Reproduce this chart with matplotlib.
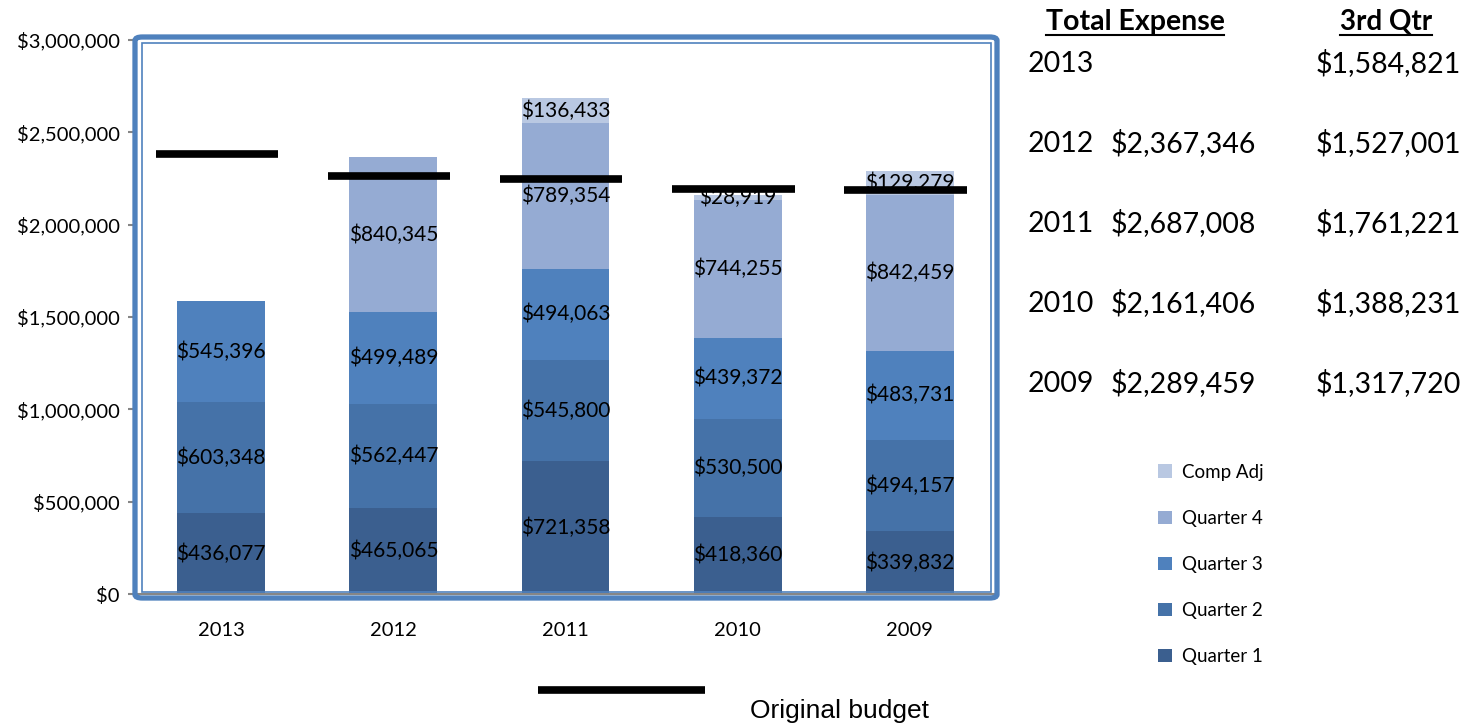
import matplotlib
matplotlib.use("Agg")
import matplotlib.pyplot as plt
import numpy as np
from matplotlib.patches import FancyBboxPatch
from matplotlib.lines import Line2D

plt.rcParams['font.family'] = ['Lato', 'DejaVu Sans']

years = ['2013', '2012', '2011', '2010', '2009']
q1 = [436077, 465065, 721358, 418360, 339832]
q2 = [603348, 562447, 545800, 530500, 494157]
q3 = [545396, 499489, 494063, 439372, 483731]
q4 = [0, 840345, 789354, 744255, 842459]
comp_adj = [0, 0, 136433, 28919, 129279]
budget = [2380000, 2262000, 2245000, 2191000, 2190000]

series_names = ['Quarter 1', 'Quarter 2', 'Quarter 3', 'Quarter 4', 'Comp Adj']
series = [q1, q2, q3, q4, comp_adj]
colors = ['#3B5F8F', '#4572A8', '#4F81BD', '#95ABD3', '#B9C8E2']

table_years = ['2013', '2012', '2011', '2010', '2009']
table_total = ['', '$2,367,346', '$2,687,008', '$2,161,406', '$2,289,459']
table_q3 = ['$1,584,821', '$1,527,001', '$1,761,221', '$1,388,231', '$1,317,720']

W, H = 1468, 725
fig = plt.figure(figsize=(W / 100, H / 100), dpi=100)

def fx(px):
    return px / W

def fy(py):
    return 1 - py / H

ax = fig.add_axes([fx(135), fy(594), fx(996) - fx(135), fy(40) - fy(594)])
x = np.arange(len(years))
bottom = np.zeros(len(years))
for name, vals, c in zip(series_names, series, colors):
    vals = np.array(vals, dtype=float)
    ax.bar(x, vals, 0.51, bottom=bottom, color=c, label=name, zorder=2)
    for i, v in enumerate(vals):
        if v > 0:
            ax.text(x[i], bottom[i] + v / 2, '${:,.0f}'.format(v), ha='center', va='center',
                    fontsize=15, color='black', zorder=3)
    bottom += vals

for i, b in enumerate(budget):
    ax.plot([x[i] - 0.38, x[i] + 0.33], [b, b], color='black', lw=5.5, solid_capstyle='butt', zorder=4)

ax.set_xlim(-0.5, len(years) - 0.5)
ax.set_ylim(0, 3000000)
ax.set_yticks(np.arange(0, 3000001, 500000))
ax.set_yticklabels(['${:,.0f}'.format(v) for v in np.arange(0, 3000001, 500000)], fontsize=14.5)
ax.set_xticks(x)
ax.set_xticklabels(years, fontsize=14.5)
ax.tick_params(axis='x', length=0, pad=20)
ax.tick_params(axis='y', length=5, color='#868686', width=1.5, pad=6)
for s in ['top', 'right']:
    ax.spines[s].set_visible(False)
ax.spines['left'].set_color('#868686')
ax.spines['bottom'].set_color('#868686')
ax.spines['left'].set_linewidth(1.5)
ax.spines['bottom'].set_linewidth(1.5)
ax.patch.set_visible(False)

# double blue frame
outer = FancyBboxPatch((fx(135), fy(598)), fx(997) - fx(135), fy(37) - fy(598),
                       boxstyle='round,pad=0,rounding_size=0.005', transform=fig.transFigure,
                       fill=False, edgecolor='#4F81BD', lw=3.8, zorder=5)
inner = FancyBboxPatch((fx(142), fy(592)), fx(991) - fx(142), fy(43) - fy(592),
                       boxstyle='square,pad=0', transform=fig.transFigure,
                       fill=False, edgecolor='#4F81BD', lw=1.2, zorder=5)
fig.patches.extend([outer, inner])

# right-side table
t1 = fig.text(fx(1135), fy(30), 'Total Expense', fontsize=20.5, fontweight='bold', ha='center', va='baseline')
t2 = fig.text(fx(1386), fy(30), '3rd Qtr', fontsize=20, fontweight='bold', ha='center', va='baseline')
fig.canvas.draw()
for t in (t1, t2):
    bb = t.get_window_extent().transformed(fig.transFigure.inverted())
    fig.add_artist(Line2D([bb.x0, bb.x1], [fy(35), fy(35)], color='black', lw=1.5))
for i, (yr, tot, q) in enumerate(zip(table_years, table_total, table_q3)):
    yy = fy(72 + 80 * i)
    fig.text(fx(1028), yy, yr, fontsize=20.5, ha='left', va='baseline')
    fig.text(fx(1256), yy, tot, fontsize=20.5, ha='right', va='baseline')
    fig.text(fx(1461), yy, q, fontsize=20.5, ha='right', va='baseline')

# legend
handles, labels = ax.get_legend_handles_labels()
leg = fig.legend(handles[::-1], labels[::-1], loc='upper left', bbox_to_anchor=(fx(1141), fy(447)),
                 frameon=False, fontsize=13.5, handlelength=0.75, handleheight=0.75,
                 labelspacing=1.55, handletextpad=0.55)

# original budget key
fig.add_artist(Line2D([fx(538), fx(705)], [fy(690), fy(690)], color='black', lw=5.5, solid_capstyle='butt'))
fig.text(fx(750), fy(711), 'Original budget', fontsize=19, family='Liberation Sans', ha='left', va='center')

fig.savefig('out.png', dpi=100)
